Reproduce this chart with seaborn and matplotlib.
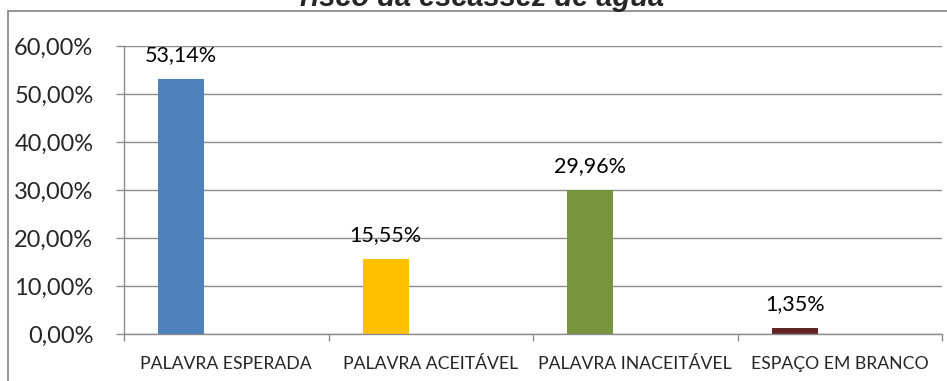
import matplotlib
matplotlib.use("Agg")
import matplotlib.pyplot as plt
from matplotlib.lines import Line2D
from matplotlib.ticker import FixedLocator
import seaborn as sns

categories = ["PALAVRA ESPERADA", "PALAVRA ACEITÁVEL", "PALAVRA INACEITÁVEL", "ESPAÇO EM BRANCO"]
values = [53.14, 15.55, 29.96, 1.35]
colors = ["#4F81BD", "#FFC000", "#77933C", "#632523"]
y_ticks = [0, 10, 20, 30, 40, 50, 60]
title = "risco da escassez de água"

sns.set_theme(style="white")
plt.rcParams["font.family"] = ["Lato", "DejaVu Sans"]

W, H = 947, 381
fig = plt.figure(figsize=(W / 100, H / 100), dpi=100)
ax = fig.add_axes([124 / W, 1 - 334 / H, (942 - 124) / W, (334 - 46) / H])

sns.barplot(x=categories, y=values, hue=categories, palette=colors,
            width=0.225, legend=False, ax=ax, saturation=1)

# each bar sits left of its category centre
for p in ax.patches:
    p.set_x(p.get_x() - 0.22)
    p.set_linewidth(0)

def pct(v):
    return f"{v:.2f}".replace(".", ",") + "%"

for cont in ax.containers:
    ax.bar_label(cont, labels=[pct(v) for v in cont.datavalues],
                 padding=10, fontsize=15.5, color="#000000")

ax.set_xlim(-0.5, 3.5)
ax.set_ylim(0, 60)
ax.set_yticks(y_ticks)
ax.set_yticklabels([pct(v) for v in y_ticks], fontsize=17)
ax.set_xticks(range(4))
ax.set_xticklabels(categories, fontsize=12.7)
ax.xaxis.set_minor_locator(FixedLocator([-0.5, 0.5, 1.5, 2.5, 3.5]))
ax.tick_params(axis="x", which="major", length=0, pad=16)
ax.tick_params(axis="x", which="minor", length=5, width=1, color="#8c8c8c", direction="out", bottom=True)
ax.tick_params(axis="y", length=6, width=1, color="#8c8c8c", direction="out", left=True, pad=16)
ax.set_xlabel("")
ax.set_ylabel("")

ax.grid(axis="y", color="#8c8c8c", linewidth=1)
ax.set_axisbelow(True)
for s in ["top", "right"]:
    ax.spines[s].set_visible(False)
for s in ["left", "bottom"]:
    ax.spines[s].set_color("#8c8c8c")
    ax.spines[s].set_linewidth(1)

# chart frame
fig.add_artist(Line2D([8 / W, 8 / W], [0, 1 - 11 / H], transform=fig.transFigure,
                      color="#8c8c8c", linewidth=1.3))
fig.add_artist(Line2D([8 / W, 1], [1 - 11 / H, 1 - 11 / H], transform=fig.transFigure,
                      color="#8c8c8c", linewidth=1.3))

fig.text(482 / W, 1 - 6 / H, title, ha="center", va="baseline",
         fontsize=20.9, fontweight="bold", fontstyle="italic",
         family=["Liberation Sans", "DejaVu Sans"])

fig.savefig("out.png", dpi=100)
